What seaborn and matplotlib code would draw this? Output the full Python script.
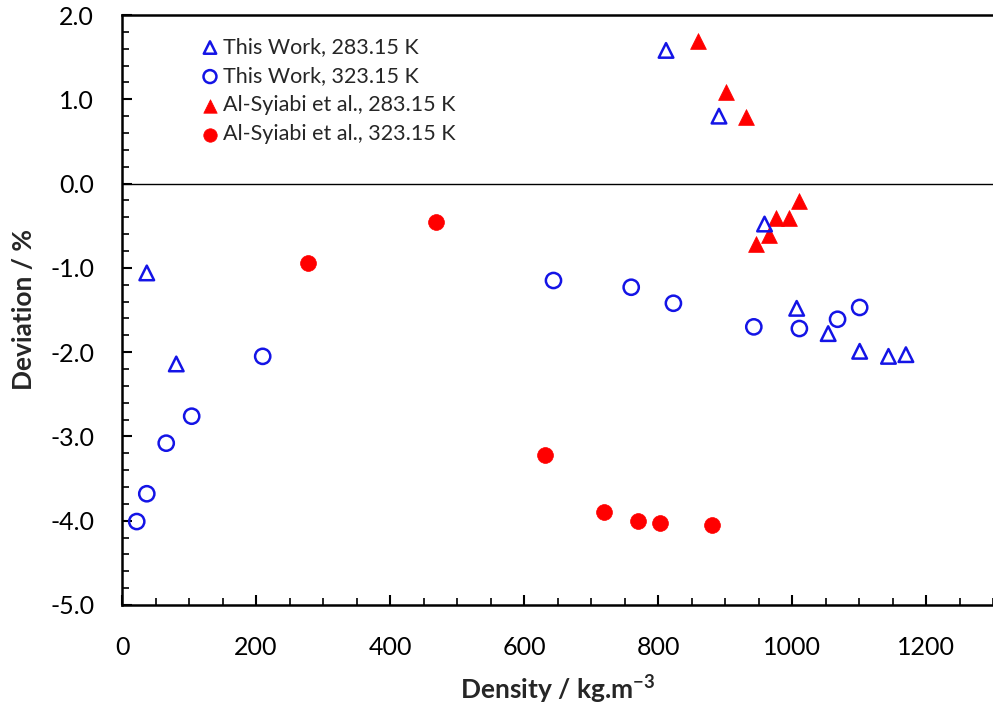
import matplotlib
matplotlib.use("Agg")
import matplotlib.pyplot as plt
import seaborn as sns
import numpy as np
from matplotlib.ticker import MultipleLocator, FormatStrFormatter

sns.set_theme(style="white")
plt.rcParams['font.family'] = ['Lato', 'DejaVu Sans']
plt.rcParams['axes.unicode_minus'] = False

# Data
tw283_x = [37, 81, 812, 891, 959, 1007, 1054, 1101, 1144, 1170]
tw283_y = [-1.06, -2.14, 1.58, 0.80, -0.48, -1.48, -1.78, -1.99, -2.05, -2.03]
tw323_x = [22, 37, 66, 104, 210, 644, 760, 823, 943, 1011, 1068, 1101]
tw323_y = [-4.01, -3.68, -3.08, -2.76, -2.05, -1.15, -1.23, -1.42, -1.70, -1.72, -1.61, -1.47]
as283_x = [860, 901, 931, 946, 966, 976, 996, 1011]
as283_y = [1.69, 1.09, 0.79, -0.72, -0.61, -0.41, -0.41, -0.21]
as323_x = [277, 468, 631, 720, 770, 803, 881]
as323_y = [-0.94, -0.45, -3.22, -3.90, -4.00, -4.03, -4.05]

labels = ["This Work, 283.15 K", "This Work, 323.15 K",
          "Al-Syiabi et al., 283.15 K", "Al-Syiabi et al., 323.15 K"]

blue = "#1414E6"
red = "#FF0000"

fig = plt.figure(figsize=(9.93, 7.08), dpi=100)
ax = fig.add_axes([122/993, 103/708, 871/993, 590/708])

ax.axhline(0, color="black", lw=1.0, zorder=1)

sns.scatterplot(x=tw283_x, y=tw283_y, ax=ax, marker="^", s=110,
                facecolors="none", edgecolors=blue, linewidths=1.8,
                label=labels[0], zorder=3)
sns.scatterplot(x=tw323_x, y=tw323_y, ax=ax, marker="o", s=120,
                facecolors="none", edgecolors=blue, linewidths=1.8,
                label=labels[1], zorder=3)
sns.scatterplot(x=as283_x, y=as283_y, ax=ax, marker="^", s=130,
                color=red, edgecolor=red, linewidth=0.5,
                label=labels[2], zorder=2)
sns.scatterplot(x=as323_x, y=as323_y, ax=ax, marker="o", s=130,
                color=red, edgecolor=red, linewidth=0.5,
                label=labels[3], zorder=2)

ax.set_xlim(0, 1300)
ax.set_ylim(-5, 2)
ax.xaxis.set_major_locator(MultipleLocator(200))
ax.xaxis.set_minor_locator(MultipleLocator(50))
ax.yaxis.set_major_locator(MultipleLocator(1))
ax.yaxis.set_minor_locator(MultipleLocator(0.2))
ax.yaxis.set_major_formatter(FormatStrFormatter("%.1f"))
ax.set_xticks([0, 200, 400, 600, 800, 1000, 1200])

ax.tick_params(axis="both", which="major", direction="in", length=7, width=1.5,
               labelsize=18, color="black", labelcolor="black", pad=20,
               bottom=True, left=True, top=False, right=False)
ax.tick_params(axis="x", which="major", pad=22)
ax.tick_params(axis="both", which="minor", direction="in", length=5, width=1.2,
               color="black", bottom=True, left=True, top=False, right=False)

for side in ["left", "bottom", "top"]:
    ax.spines[side].set_visible(True)
    ax.spines[side].set_color("black")
    ax.spines[side].set_linewidth(1.8)
ax.spines["right"].set_visible(False)

ax.set_xlabel("Density / kg.m$^{\\mathregular{-3}}$", fontsize=19, fontweight="bold", labelpad=10)
ax.set_ylabel("Deviation / %", fontsize=19, fontweight="bold", labelpad=10)

leg = ax.legend(loc="upper left", bbox_to_anchor=(0.080, 0.977), frameon=False,
                fontsize=15.5, handletextpad=0.15, labelspacing=0.42,
                handlelength=0.9, borderaxespad=0, markerscale=0.85)

fig.savefig("out.png", dpi=100)
